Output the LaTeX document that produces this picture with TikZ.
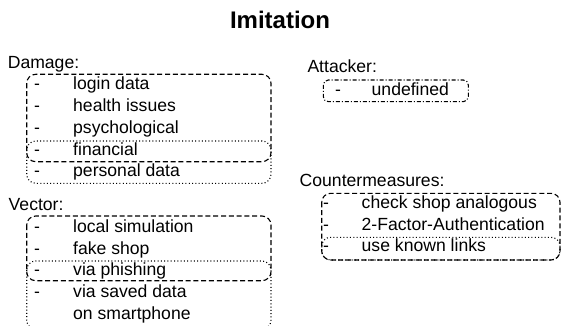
\documentclass[tikz,border=0pt]{standalone}
\usepackage{fontspec}
\setmainfont{Liberation Sans}
\begin{document}
\begin{tikzpicture}[x=1pt,y=-1pt,
  txt/.style={inner sep=0pt,anchor=base west,font=\fontsize{17.6}{20}\selectfont},
  heading/.style={inner sep=0pt,anchor=base,font=\fontsize{24}{28}\selectfont\bfseries},
  dashbox/.style={draw,line width=1.1pt,rounded corners=9pt,dash pattern=on 5pt off 2.8pt},
  dotbox/.style={draw,line width=1.1pt,rounded corners=9pt,dash pattern=on 1pt off 2.3pt},
  dashdotbox/.style={draw,line width=1.1pt,rounded corners=5pt,dash pattern=on 4pt off 2pt on 1pt off 2pt}]
\useasboundingbox (0,0) rectangle (562,326);
\begin{scope}
\clip (0,0) rectangle (562,326);

% title
\node[heading] (title) at (280,28.3) {Imitation};

% damage list
\node[txt] (dmg) at (7.6,68.3) {Damage:};
\foreach \i/\t in {1/login data,2/health issues,3/psychological,4/financial,5/personal data}{
  \node[txt] (dmgb\i) at (34,68.3+21.7*\i) {-};
  \node[txt] (dmgt\i) at (73,68.3+21.7*\i) {\t};
}
\draw[dashbox] (26.7,74.3) rectangle (271,161.7);
\draw[dotbox] (26.7,141) rectangle (271,183.3);

% vector list
\node[txt] (vec) at (8.5,210.7) {Vector:};
\foreach \i/\t in {1/local simulation,2/fake shop,3/via phishing,4/via saved data}{
  \node[txt] (vecb\i) at (34,210.7+21.7*\i) {-};
  \node[txt] (vect\i) at (73,210.7+21.7*\i) {\t};
}
\node[txt] (vect5) at (73,319.2) {on smartphone};
\draw[dashbox] (26.7,216) rectangle (271,280.7);
\draw[dotbox] (26.7,261) rectangle (271,329);

% attacker
\node[txt] (att) at (307.3,72.3) {Attacker:};
\node[txt] (attb1) at (335,96) {-};
\node[txt] (attt1) at (371.5,96) {undefined};
\draw[dashdotbox] (323.3,80) rectangle (468.3,101.7);

% countermeasures
\node[txt] (cm) at (299.5,186.7) {Countermeasures:};
\foreach \i/\t in {1/check shop analogous,2/2-Factor-Authentication,3/use known links}{
  \node[txt] (cmb\i) at (323,186.7+21.7*\i) {-};
  \node[txt] (cmt\i) at (361.5,186.7+21.7*\i) {\t};
}
\draw[dashbox] (321.7,193.3) rectangle (560,260);
\draw[dotbox] (321.7,237.3) rectangle (560,260);
\end{scope}
\end{tikzpicture}
\end{document}
